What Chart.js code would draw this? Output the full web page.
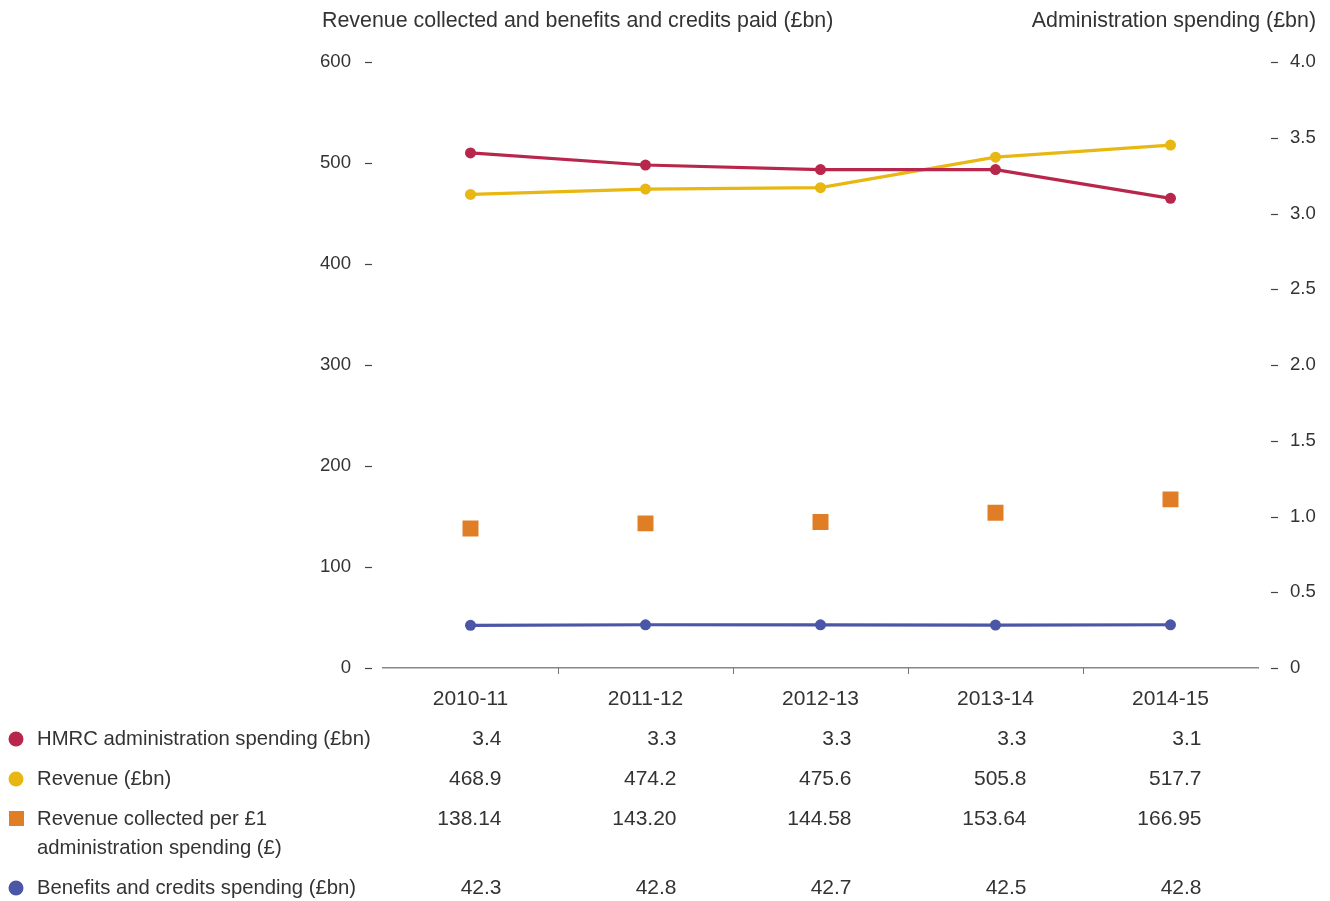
<!DOCTYPE html>
<html>
<head>
<meta charset="utf-8">
<script src="https://cdn.jsdelivr.net/npm/chart.js@4.4.1/dist/chart.umd.min.js"></script>
<style>
  html, body { margin: 0; padding: 0; background: #fff; }
  #wrap { position: relative; width: 1330px; height: 901px; }
</style>
</head>
<body>
<div id="wrap"><canvas id="c" width="1330" height="901"></canvas></div>
<script>
// ---- Data ----
const categories = ['2010-11', '2011-12', '2012-13', '2013-14', '2014-15'];
const adminSpending = [3.40, 3.32, 3.29, 3.29, 3.10];        // £bn (right axis)
const revenue = [468.9, 474.2, 475.6, 505.8, 517.7];          // £bn (left axis)
const revenuePerPound = [138.14, 143.20, 144.58, 153.64, 166.95]; // £ (left axis)
const benefits = [42.3, 42.8, 42.7, 42.5, 42.8];              // £bn (left axis)

const seriesNames = [
  ['HMRC administration spending (£bn)'],
  ['Revenue (£bn)'],
  ['Revenue collected per £1', 'administration spending (£)'],
  ['Benefits and credits spending (£bn)']
];
const leftTitle = 'Revenue collected and benefits and credits paid (£bn)';
const rightTitle = 'Administration spending (£bn)';

const RED = '#b8264b', YELLOW = '#e9b712', ORANGE = '#e07e26', BLUE = '#4b56a6';
const TEXT = '#333333';
const FONT = '"Liberation Sans", Arial, sans-serif';

const tablePlugin = {
  id: 'tablePlugin',
  afterDraw(chart) {
    const ctx = chart.ctx;
    const x = chart.scales.x, yl = chart.scales.yLeft, yr = chart.scales.yRight;
    const area = chart.chartArea;
    ctx.save();
    // y tick dashes
    ctx.strokeStyle = '#444';
    ctx.lineWidth = 1.2;
    yl.ticks.forEach(t => {
      const y = Math.round(yl.getPixelForValue(t.value)) + 0.5;
      ctx.beginPath(); ctx.moveTo(area.left - 18, y); ctx.lineTo(area.left - 11, y); ctx.stroke();
    });
    yr.ticks.forEach(t => {
      const y = Math.round(yr.getPixelForValue(t.value)) + 0.5;
      ctx.beginPath(); ctx.moveTo(area.right + 13, y); ctx.lineTo(area.right + 20, y); ctx.stroke();
    });
    // x boundary ticks
    ctx.strokeStyle = '#777';
    ctx.lineWidth = 1;
    for (let i = 0; i < categories.length - 1; i++) {
      const px = Math.round((x.getPixelForValue(i) + x.getPixelForValue(i + 1)) / 2) + 0.5;
      ctx.beginPath(); ctx.moveTo(px, area.bottom); ctx.lineTo(px, area.bottom + 6); ctx.stroke();
    }
    // axis titles
    ctx.fillStyle = TEXT;
    ctx.font = '21.4px ' + FONT;
    ctx.textBaseline = 'middle';
    ctx.textAlign = 'left';
    ctx.fillText(leftTitle, 322, 21);
    ctx.textAlign = 'right';
    ctx.fillText(rightTitle, 1316, 21);

    // data table
    const rows = [
      { y: 739, name: seriesNames[0], vals: adminSpending.map(v => v.toFixed(1)), color: RED, shape: 'circle' },
      { y: 779, name: seriesNames[1], vals: revenue.map(v => v.toFixed(1)), color: YELLOW, shape: 'circle' },
      { y: 819, name: seriesNames[2], vals: revenuePerPound.map(v => v.toFixed(2)), color: ORANGE, shape: 'square' },
      { y: 888, name: seriesNames[3], vals: benefits.map(v => v.toFixed(1)), color: BLUE, shape: 'circle' }
    ];
    rows.forEach(r => {
      ctx.fillStyle = r.color;
      if (r.shape === 'circle') {
        ctx.beginPath(); ctx.arc(16, r.y, 7.5, 0, Math.PI * 2); ctx.fill();
      } else {
        ctx.fillRect(9, r.y - 8, 15, 15);
      }
      ctx.fillStyle = TEXT;
      ctx.textAlign = 'left';
      ctx.font = '20.3px ' + FONT;
      r.name.forEach((line, i) => ctx.fillText(line, 37, r.y + i * 29));
      ctx.textAlign = 'right';
      ctx.font = '21px ' + FONT;
      r.vals.forEach((v, i) => ctx.fillText(v, x.getPixelForValue(i) + 31, r.y));
    });
    ctx.restore();
  }
};

new Chart(document.getElementById('c'), {
  type: 'line',
  data: {
    labels: categories,
    datasets: [
      { label: seriesNames[0].join(' '), data: adminSpending, yAxisID: 'yRight',
        borderColor: RED, backgroundColor: RED, borderWidth: 3.2, pointRadius: 5.5, pointBorderWidth: 0 },
      { label: seriesNames[1].join(' '), data: revenue, yAxisID: 'yLeft',
        borderColor: YELLOW, backgroundColor: YELLOW, borderWidth: 3.2, pointRadius: 5.5, pointBorderWidth: 0 },
      { label: seriesNames[2].join(' '), data: revenuePerPound, yAxisID: 'yLeft', showLine: false,
        borderColor: ORANGE, backgroundColor: ORANGE, pointStyle: 'rect', pointRadius: 11.3, pointBorderWidth: 0 },
      { label: seriesNames[3].join(' '), data: benefits, yAxisID: 'yLeft',
        borderColor: BLUE, backgroundColor: BLUE, borderWidth: 3.2, pointRadius: 5.5, pointBorderWidth: 0 }
    ]
  },
  options: {
    responsive: false,
    animation: false,
    layout: { padding: { top: 62, left: 0, right: 0, bottom: 0 } },
    plugins: { legend: { display: false }, tooltip: { enabled: false } },
    scales: {
      x: {
        offset: true,
        grid: { display: false, drawTicks: false },
        border: { display: true, color: '#888', width: 1.5 },
        ticks: { color: TEXT, font: { family: FONT, size: 21 }, padding: 19, maxRotation: 0 },
        afterFit(s) { s.height = 233; }
      },
      yLeft: {
        position: 'left', min: 0, max: 600,
        grid: { display: false, drawTicks: false },
        border: { display: false },
        ticks: { stepSize: 100, color: TEXT, font: { family: FONT, size: 18.6 }, padding: 32 },
        afterFit(s) { s.width = 383; }
      },
      yRight: {
        position: 'right', min: 0, max: 4,
        grid: { display: false, drawTicks: false },
        border: { display: false },
        ticks: { stepSize: 0.5, color: TEXT, font: { family: FONT, size: 18.6 }, padding: 32,
          callback: v => v === 0 ? '0' : v.toFixed(1) },
        afterFit(s) { s.width = 72; }
      }
    }
  },
  plugins: [tablePlugin]
});
</script>
</body>
</html>
